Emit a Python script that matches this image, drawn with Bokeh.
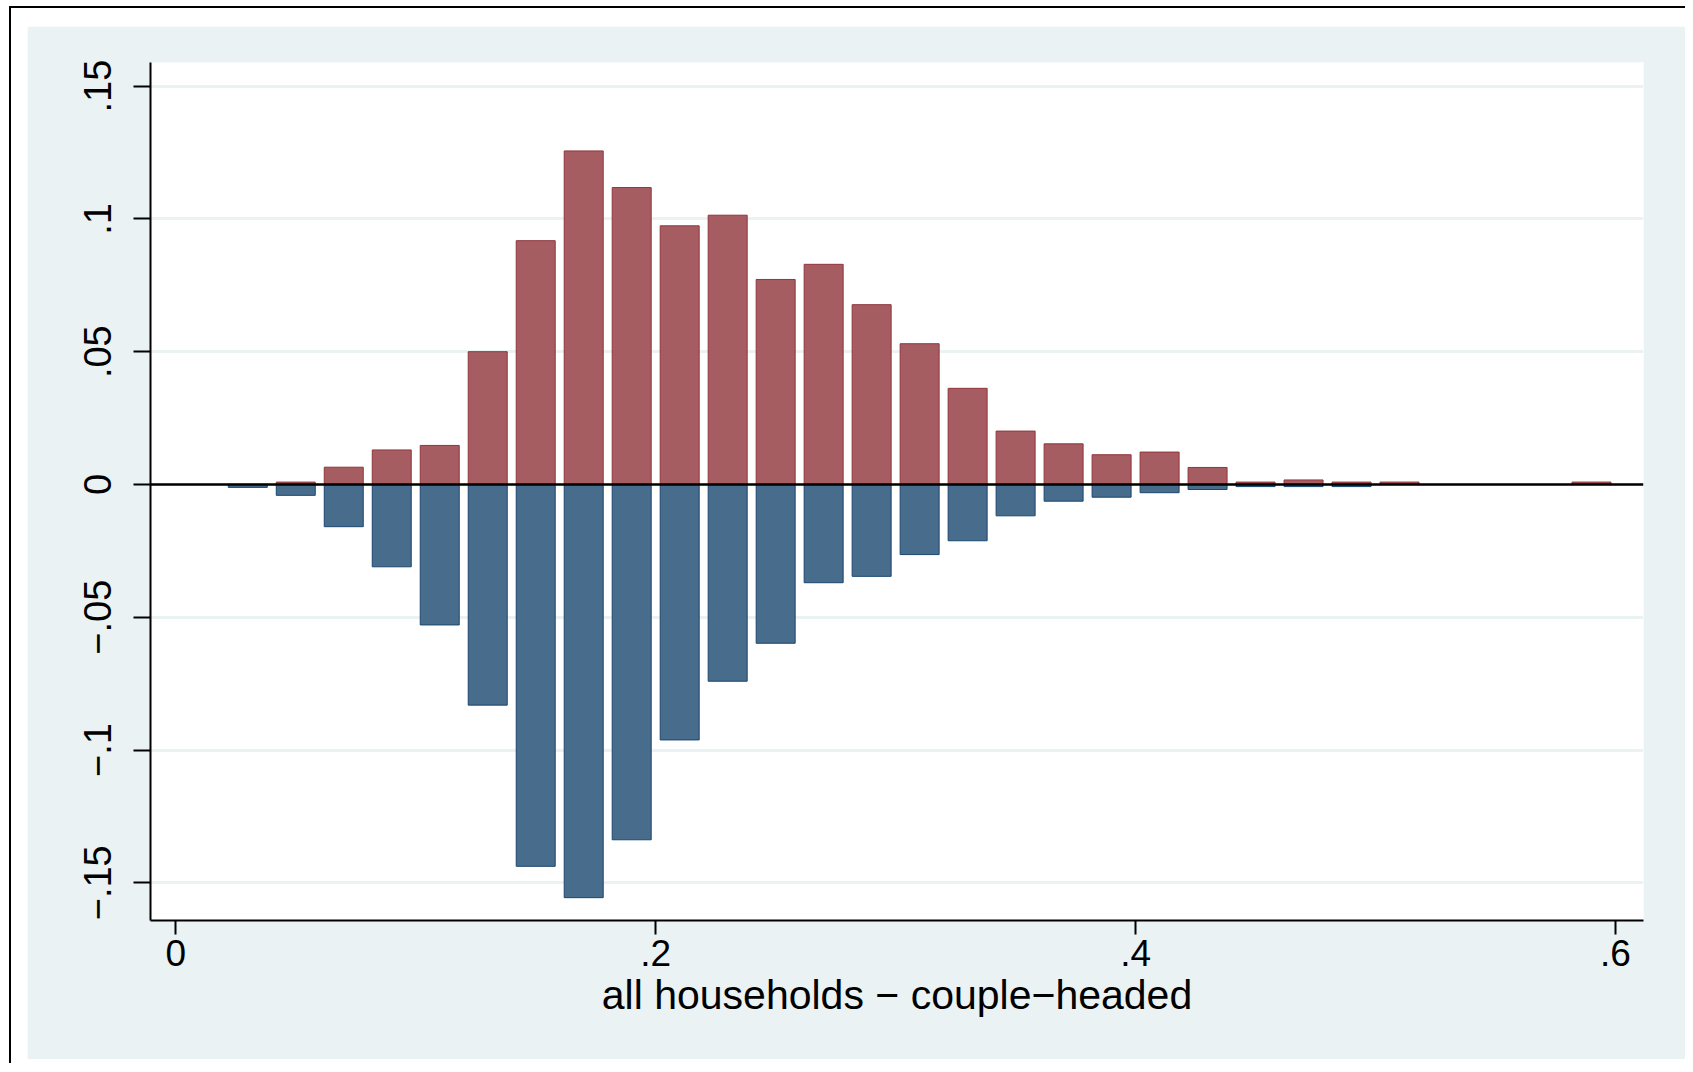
from bokeh.plotting import figure
from bokeh.models import Range1d, FixedTicker, Span, Spacer
from bokeh.layouts import column, row
from bokeh.embed import file_html
from bokeh.resources import INLINE

# ---- data ----
bin_mid = [0.03, 0.05, 0.07, 0.09, 0.11, 0.13, 0.15, 0.17, 0.19, 0.21, 0.23, 0.25, 0.27,
           0.29, 0.31, 0.33, 0.35, 0.37, 0.39, 0.41, 0.43, 0.45, 0.47, 0.49, 0.51, 0.59]
upper = [0.0, 0.0009, 0.0065, 0.0130, 0.0147, 0.0500, 0.0918, 0.1256, 0.1118, 0.0974, 0.1014,
         0.0772, 0.0829, 0.0677, 0.0530, 0.0362, 0.0201, 0.0153, 0.0112, 0.0122, 0.0064,
         0.0009, 0.0017, 0.0009, 0.0009, 0.0009]
lower = [-0.0011, -0.0041, -0.0159, -0.0310, -0.0529, -0.0831, -0.1438, -0.1556, -0.1338,
         -0.0962, -0.0741, -0.0598, -0.0370, -0.0346, -0.0264, -0.0212, -0.0118, -0.0063,
         -0.0048, -0.0031, -0.0019, -0.0008, -0.0008, -0.0008, 0.0, 0.0]
x_ticks = [0, 0.2, 0.4, 0.6]
x_tick_labels = ["0", ".2", ".4", ".6"]
y_ticks = [-0.15, -0.1, -0.05, 0, 0.05, 0.1, 0.15]
y_tick_labels = ["\u2212.15", "\u2212.1", "\u2212.05", "0", ".05", ".1", ".15"]
x_title = "all households \u2212 couple\u2212headed"

FONT = "Liberation Sans"
BG = "#EAF2F3"

p = figure(width=1658, height=1033, title=None,
           x_range=Range1d(-0.01054, 0.61167), y_range=Range1d(-0.1642, 0.1589),
           output_backend="svg", toolbar_location=None,
           min_border_left=123, min_border_right=42, min_border_top=36, min_border_bottom=139,
           background_fill_color="white", border_fill_color=BG, outline_line_color=None)

p.vbar(x=bin_mid, top=lower, bottom=0, width=0.01625,
       fill_color="#486C8C", line_color="#1A476F", line_width=1)
p.vbar(x=bin_mid, top=upper, bottom=0, width=0.01625,
       fill_color="#A65D62", line_color="#90353B", line_width=1)

p.add_layout(Span(location=0, dimension="width", line_color="black", line_width=2.5))

p.xgrid.visible = False
p.ygrid.grid_line_color = BG
p.ygrid.grid_line_width = 3

p.xaxis.ticker = FixedTicker(ticks=x_ticks)
p.xaxis.major_label_overrides = {t: l for t, l in zip(x_ticks, x_tick_labels)}
p.yaxis.ticker = FixedTicker(ticks=y_ticks)
p.ygrid.ticker = FixedTicker(ticks=y_ticks)
p.yaxis.major_label_overrides = {t: l for t, l in zip(y_ticks, y_tick_labels)}
p.yaxis.major_label_orientation = "vertical"

for ax in (p.xaxis, p.yaxis):
    ax.axis_line_color = "black"
    ax.axis_line_width = 2
    ax.major_tick_line_color = "black"
    ax.major_tick_line_width = 2
    ax.major_tick_in = 0
    ax.minor_tick_line_color = None
    ax.major_label_text_font = FONT
    ax.major_label_text_color = "black"

p.xaxis.major_label_text_font_size = "37px"
p.yaxis.major_label_text_font_size = "38px"
p.xaxis.major_tick_out = 14
p.yaxis.major_tick_out = 17
p.xaxis.major_label_standoff = 5
p.yaxis.major_label_standoff = 22

p.xaxis.axis_label = x_title
p.xaxis.axis_label_text_font = FONT
p.xaxis.axis_label_text_font_size = "41px"
p.xaxis.axis_label_text_font_style = "normal"
p.xaxis.axis_label_text_color = "black"
p.xaxis.axis_label_standoff = 3

layout = column(
    Spacer(height=18),
    row(Spacer(width=16), p),
    Spacer(height=4),
    styles={"border-top": "2px solid black", "border-left": "2px solid black",
            "background-color": "white", "margin-top": "6px", "margin-left": "9px"},
)

open("out.html", "w").write(file_html(layout, INLINE))
